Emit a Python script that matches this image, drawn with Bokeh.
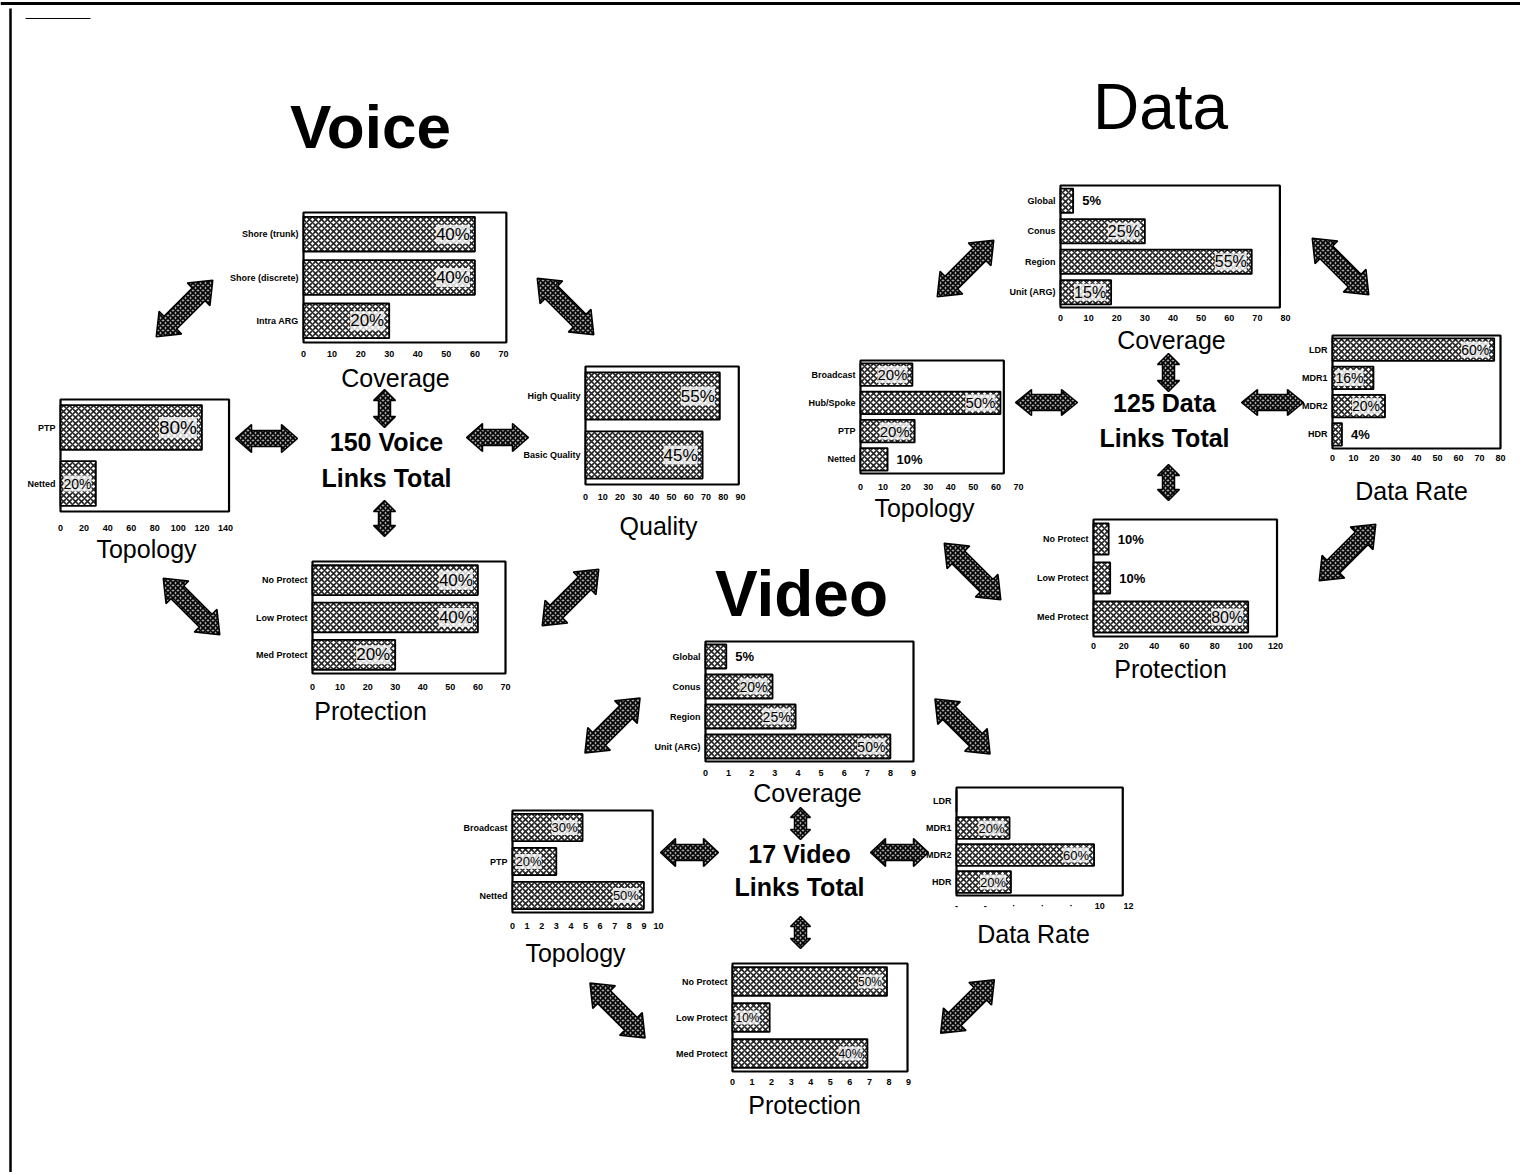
import math
from bokeh.plotting import figure
from bokeh.models import Range1d
from bokeh.embed import file_html
from bokeh.resources import INLINE
from bokeh.core.properties import value

FONT = "Liberation Sans"

# ---------------- data ----------------
voice_cov_cats = ["Shore (trunk)", "Shore (discrete)", "Intra ARG"]
voice_cov_vals = [60, 60, 30]
voice_cov_pct = ["40%", "40%", "20%"]
voice_cov_ticks = [0, 10, 20, 30, 40, 50, 60, 70]

voice_topo_cats = ["PTP", "Netted"]
voice_topo_vals = [120, 30]
voice_topo_pct = ["80%", "20%"]
voice_topo_ticks = [0, 20, 40, 60, 80, 100, 120, 140]

voice_qual_cats = ["High Quality", "Basic Quality"]
voice_qual_vals = [78, 68]
voice_qual_pct = ["55%", "45%"]
voice_qual_ticks = [0, 10, 20, 30, 40, 50, 60, 70, 80, 90]

voice_prot_cats = ["No Protect", "Low Protect", "Med Protect"]
voice_prot_vals = [60, 60, 30]
voice_prot_pct = ["40%", "40%", "20%"]
voice_prot_ticks = [0, 10, 20, 30, 40, 50, 60, 70]

data_cov_cats = ["Global", "Conus", "Region", "Unit (ARG)"]
data_cov_vals = [4.5, 30, 68, 18]
data_cov_pct = ["5%", "25%", "55%", "15%"]
data_cov_ticks = [0, 10, 20, 30, 40, 50, 60, 70, 80]

data_topo_cats = ["Broadcast", "Hub/Spoke", "PTP", "Netted"]
data_topo_vals = [23, 62, 24, 12]
data_topo_pct = ["20%", "50%", "20%", "10%"]
data_topo_ticks = [0, 10, 20, 30, 40, 50, 60, 70]

data_rate_cats = ["LDR", "MDR1", "MDR2", "HDR"]
data_rate_vals = [77, 19.5, 25, 4.5]
data_rate_pct = ["60%", "16%", "20%", "4%"]
data_rate_ticks = [0, 10, 20, 30, 40, 50, 60, 70, 80]

data_prot_cats = ["No Protect", "Low Protect", "Med Protect"]
data_prot_vals = [10, 11, 102]
data_prot_pct = ["10%", "10%", "80%"]
data_prot_ticks = [0, 20, 40, 60, 80, 100, 120]

video_cov_cats = ["Global", "Conus", "Region", "Unit (ARG)"]
video_cov_vals = [0.9, 2.9, 3.9, 8.0]
video_cov_pct = ["5%", "20%", "25%", "50%"]
video_cov_ticks = [0, 1, 2, 3, 4, 5, 6, 7, 8, 9]

video_topo_cats = ["Broadcast", "PTP", "Netted"]
video_topo_vals = [4.8, 3.0, 9.0]
video_topo_pct = ["30%", "20%", "50%"]
video_topo_ticks = [0, 1, 2, 3, 4, 5, 6, 7, 8, 9, 10]

video_rate_cats = ["LDR", "MDR1", "MDR2", "HDR"]
video_rate_vals = [0, 3.7, 9.6, 3.8]
video_rate_pct = ["", "20%", "60%", "20%"]
video_rate_ticks = [0, 2, 4, 6, 8, 10, 12]
video_rate_tick_labels = ["-", "-", "·", "·", "·", "10", "12"]

video_prot_cats = ["No Protect", "Low Protect", "Med Protect"]
video_prot_vals = [7.9, 1.9, 6.9]
video_prot_pct = ["50%", "10%", "40%"]
video_prot_ticks = [0, 1, 2, 3, 4, 5, 6, 7, 8, 9]

titles = ["Voice", "Data", "Video"]
totals = ["150 Voice", "Links Total", "125 Data", "Links Total", "17 Video", "Links Total"]

# ---------------- canvas (page coordinates) ----------------
W, H = 1520, 1172
X0, X1, Y0, Y1 = 0, W, 0, H

p = figure(width=W, height=H, x_range=Range1d(X0, X1), y_range=Range1d(Y1, Y0),
           output_backend="svg", toolbar_location=None,
           x_axis_location=None, y_axis_location=None,
           min_border=0, outline_line_color=None,
           background_fill_color="white", border_fill_color="white")
p.grid.visible = False

BAR = dict(fill_color="white", line_color="black", line_width=1.8,
           hatch_pattern="x", hatch_scale=6, hatch_weight=1.6,
           hatch_color="black", hatch_alpha=0.85)


def add_chart(name, cats, vals, pcts, ticks, tick_labels, L):
    n = len(cats)
    k, x0 = L["k"], L["x0"]
    p.extra_x_ranges[name] = Range1d((X0 - x0) / k, (X1 - x0) / k)
    h = (L["bottom"] - L["top"]) / n
    p.extra_y_ranges[name] = Range1d((Y1 - L["top"]) / h - 0.5, (Y0 - L["top"]) / h - 0.5)
    rn = dict(x_range_name=name, y_range_name=name)
    idx = list(range(n))
    # axis box
    p.quad(left=[0], right=[L["fr"]], top=[-0.5], bottom=[n - 0.5],
           fill_color=None, line_color="black", line_width=2.2, **rn)
    # bars
    p.hbar(y=idx, left=0, right=vals, height=0.8, **BAR, **rn)
    # category labels
    p.text(x=[0] * n, y=idx, text=cats, x_offset=-5, text_align="right",
           text_baseline="middle", text_font=value(FONT), text_font_size="9px",
           text_font_style="bold", text_color="black", **rn)
    # tick labels
    ty = (L["ty"] - L["top"]) / h - 0.5
    p.text(x=ticks, y=[ty] * len(ticks), text=tick_labels, text_align="center",
           text_baseline="middle", text_font=value(FONT), text_font_size="9px",
           text_font_style="bold", text_color="black", **rn)
    # percentage labels
    xmax = L["fr"]
    ins = [i for i in idx if vals[i] / xmax >= 0.19 and pcts[i] and vals[i] * k >= 48]
    narrow = [i for i in idx if vals[i] / xmax >= 0.19 and pcts[i] and vals[i] * k < 48]
    out = [i for i in idx if vals[i] / xmax < 0.19 and pcts[i]]
    common = dict(text_baseline="middle", text_font=value(FONT), text_color="black",
                  background_fill_color="white", background_fill_alpha=0.8)
    if ins:
        p.text(x=[vals[i] for i in ins], y=ins, text=[pcts[i] for i in ins],
               x_offset=-5, text_align="right", text_font_size=f"{L['fs']}px", **common, **rn)
    if narrow:
        p.text(x=[0] * len(narrow), y=narrow, text=[pcts[i] for i in narrow],
               x_offset=3, text_align="left", text_font_size=f"{min(L['fs'], 14)}px",
               **common, **rn)
    if out:
        p.text(x=[vals[i] for i in out], y=out, text=[pcts[i] for i in out],
               x_offset=9, text_align="left", text_baseline="middle",
               text_font=value(FONT), text_font_size="13px", text_font_style="bold",
               text_color="black", **rn)
    # caption
    p.text(x=[L["cx"]], y=[L["cy"]], text=[L["cap"]], text_align="center",
           text_baseline="middle", text_font=value(FONT), text_font_size="25px",
           text_color="black")


charts = [
    ("vc", voice_cov_cats, voice_cov_vals, voice_cov_pct, voice_cov_ticks, None,
     dict(x0=303, k=200 / 70, fr=71, top=212, bottom=342, ty=353, cx=395, cy=377, cap="Coverage", fs=17)),
    ("vt", voice_topo_cats, voice_topo_vals, voice_topo_pct, voice_topo_ticks, None,
     dict(x0=60, k=165 / 140, fr=143, top=399, bottom=511, ty=527, cx=146, cy=548, cap="Topology", fs=19)),
    ("vq", voice_qual_cats, voice_qual_vals, voice_qual_pct, voice_qual_ticks, None,
     dict(x0=585, k=155 / 90, fr=89, top=366, bottom=484, ty=496, cx=658, cy=525, cap="Quality", fs=17)),
    ("vp", voice_prot_cats, voice_prot_vals, voice_prot_pct, voice_prot_ticks, None,
     dict(x0=312, k=193 / 70, fr=70, top=561, bottom=673, ty=686, cx=370, cy=710, cap="Protection", fs=17)),
    ("dc", data_cov_cats, data_cov_vals, data_cov_pct, data_cov_ticks, None,
     dict(x0=1060, k=225 / 80, fr=78, top=185, bottom=307, ty=317, cx=1171, cy=339, cap="Coverage", fs=16)),
    ("dt", data_topo_cats, data_topo_vals, data_topo_pct, data_topo_ticks, None,
     dict(x0=860, k=158 / 70, fr=63.5, top=360, bottom=473, ty=486, cx=924, cy=507, cap="Topology", fs=15)),
    ("dr", data_rate_cats, data_rate_vals, data_rate_pct, data_rate_ticks, None,
     dict(x0=1332, k=168 / 80, fr=80, top=335, bottom=448, ty=457, cx=1411, cy=490, cap="Data Rate", fs=14)),
    ("dp", data_prot_cats, data_prot_vals, data_prot_pct, data_prot_ticks, None,
     dict(x0=1093, k=182 / 120, fr=121, top=519, bottom=636, ty=645, cx=1170, cy=668, cap="Protection", fs=16)),
    ("xc", video_cov_cats, video_cov_vals, video_cov_pct, video_cov_ticks, None,
     dict(x0=705, k=208 / 9, fr=9, top=641, bottom=761, ty=772, cx=807, cy=792, cap="Coverage", fs=14)),
    ("xt", video_topo_cats, video_topo_vals, video_topo_pct, video_topo_ticks, None,
     dict(x0=512, k=146 / 10, fr=9.6, top=810, bottom=912, ty=925, cx=575, cy=952, cap="Topology", fs=13)),
    ("xr", video_rate_cats, video_rate_vals, video_rate_pct, video_rate_ticks, video_rate_tick_labels,
     dict(x0=956, k=172 / 12, fr=11.6, top=787, bottom=895, ty=905, cx=1033, cy=933, cap="Data Rate", fs=13)),
    ("xp", video_prot_cats, video_prot_vals, video_prot_pct, video_prot_ticks, None,
     dict(x0=732, k=176 / 9, fr=8.95, top=963, bottom=1071, ty=1081, cx=804, cy=1104, cap="Protection", fs=12)),
]

for name, cats, vals, pcts, ticks, tl, L in charts:
    add_chart(name, cats, vals, pcts, ticks, tl if tl else [str(t) for t in ticks], L)

# ---------------- titles and totals ----------------
p.text(x=[370], y=[126], text=titles[:1], text_align="center", text_baseline="middle",
       text_font=value(FONT), text_font_size="62px", text_font_style="bold", text_color="black")
p.text(x=[1160], y=[106], text=titles[1:2], text_align="center", text_baseline="middle",
       text_font=value(FONT), text_font_size="64px", text_color="black")
p.text(x=[801], y=[593], text=titles[2:], text_align="center", text_baseline="middle",
       text_font=value(FONT), text_font_size="64px", text_font_style="bold", text_color="black")
p.text(x=[386, 386, 1164, 1164, 799, 799], y=[441, 477, 402, 437, 853, 886], text=totals,
       text_align="center", text_baseline="middle", text_font=value(FONT),
       text_font_size="25px", text_font_style="bold", text_color="black")

# ---------------- double arrows ----------------
arrows = [
    (184, 308, -45, 80, 16, 9, 20), (565, 306, 45, 80, 16, 9, 20),
    (266, 438, 0, 62, 14, 8, 16), (497, 437, 0, 62, 14, 8, 16),
    (384, 408, 90, 38, 11, 6, 11), (384, 518, 90, 36, 11, 6, 11),
    (191, 606, 45, 80, 16, 9, 20), (570, 597, -45, 80, 16, 9, 20),
    (965, 268, -45, 80, 16, 9, 20), (1340, 266, 45, 80, 16, 9, 20),
    (1046, 402, 0, 62, 13, 8, 16), (1272, 402, 0, 62, 13, 8, 16),
    (1168, 372, 90, 38, 11, 6, 11), (1168, 482, 90, 36, 11, 6, 11),
    (972, 571, 45, 80, 16, 9, 20), (1347, 552, -45, 80, 16, 9, 20),
    (612, 725, -45, 78, 16, 9, 20), (962, 726, 45, 78, 16, 9, 20),
    (689, 852, 0, 58, 14, 8, 15), (899, 852, 0, 58, 14, 8, 15),
    (800, 823, 90, 32, 10, 6, 10), (800, 932, 90, 32, 10, 6, 10),
    (617, 1010, 45, 78, 16, 9, 20), (967, 1006, -45, 76, 16, 9, 20),
]
axs, ays = [], []
for cx, cy, ang, Ln, hw, bw, hl in arrows:
    pts = [(-Ln / 2, 0), (-Ln / 2 + hl, hw), (-Ln / 2 + hl, bw), (Ln / 2 - hl, bw), (Ln / 2 - hl, hw),
           (Ln / 2, 0), (Ln / 2 - hl, -hw), (Ln / 2 - hl, -bw), (-Ln / 2 + hl, -bw), (-Ln / 2 + hl, -hw)]
    a = math.radians(ang)
    axs.append([cx + u * math.cos(a) - v * math.sin(a) for u, v in pts])
    ays.append([cy + u * math.sin(a) + v * math.cos(a) for u, v in pts])
p.patches(xs=axs, ys=ays, fill_color="#a8a8a8", line_color="black", line_width=1.5,
          hatch_pattern="x", hatch_scale=5, hatch_weight=1.6, hatch_color="black")

# ---------------- page borders ----------------
p.line(x=[X0, X1], y=[3, 3], line_color="black", line_width=3)
p.line(x=[10, 10], y=[8, Y1], line_color="black", line_width=2.5)
p.line(x=[25, 90], y=[18, 18], line_color="black", line_width=1)

open("out.html", "w").write(file_html(p, INLINE))
